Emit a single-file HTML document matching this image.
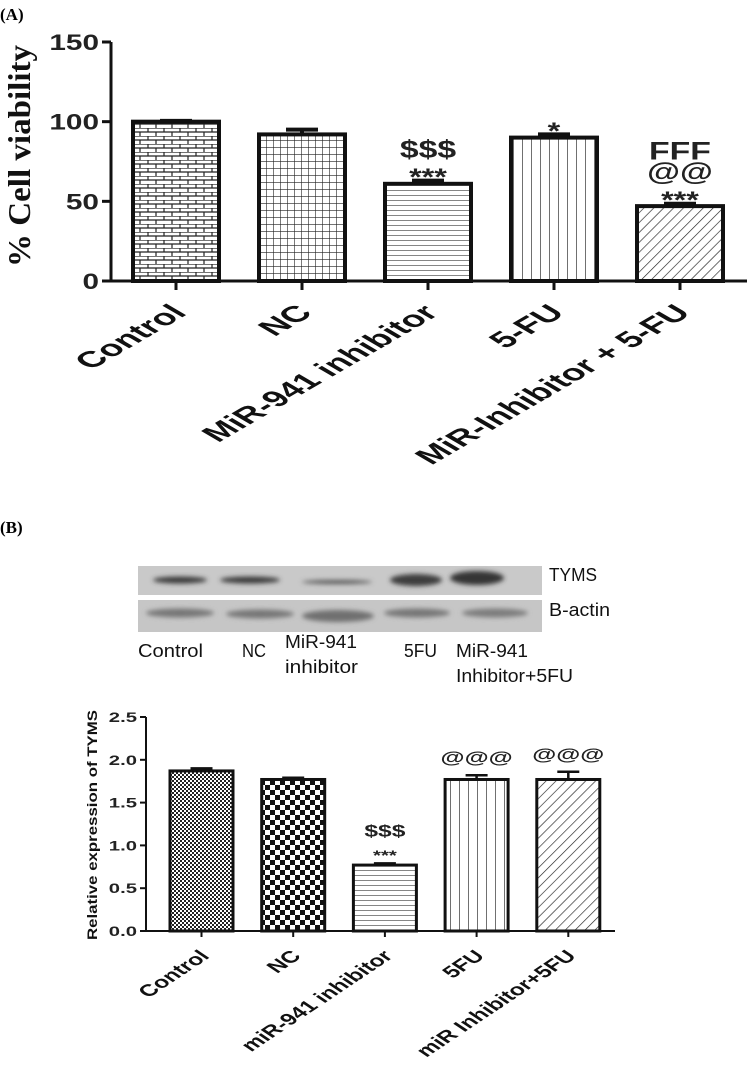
<!DOCTYPE html>
<html><head><meta charset="utf-8">
<style>
html,body{margin:0;padding:0;background:#fff;}
svg{display:block;}
text{font-family:"Liberation Sans",Arial,sans-serif;}
</style></head>
<body>
<svg id="fig" width="749" height="1069" viewBox="0 0 749 1069" xmlns="http://www.w3.org/2000/svg">
<defs>
  <pattern id="pBrick" width="16" height="8" patternUnits="userSpaceOnUse">
    <rect width="16" height="8" fill="#fff"/>
    <path d="M0 0H16M0 4H16M4 0V4M12 4V8" stroke="#222" stroke-width="1.2"/>
  </pattern>
  <pattern id="pGrid" width="7" height="7" patternUnits="userSpaceOnUse">
    <rect width="7" height="7" fill="#fff"/>
    <path d="M0 0H7M0 0V7" stroke="#222" stroke-width="1.2"/>
  </pattern>
  <pattern id="pHoriz" width="6" height="5" patternUnits="userSpaceOnUse">
    <rect width="6" height="5" fill="#fff"/>
    <path d="M0 0H6" stroke="#222" stroke-width="1.1"/>
  </pattern>
  <pattern id="pVert" width="9" height="6" patternUnits="userSpaceOnUse">
    <rect width="9" height="6" fill="#fff"/>
    <path d="M0 0V6" stroke="#222" stroke-width="1.3"/>
  </pattern>
  <pattern id="pDiag" width="7" height="7" patternUnits="userSpaceOnUse" patternTransform="rotate(45)">
    <rect width="7" height="7" fill="#fff"/>
    <path d="M0 0V7" stroke="#222" stroke-width="1.3"/>
  </pattern>
  <pattern id="pFineCheck" width="4" height="4" patternUnits="userSpaceOnUse">
    <rect width="4" height="4" fill="#fff"/>
    <rect width="2" height="2" fill="#222"/><rect x="2" y="2" width="2" height="2" fill="#222"/>
  </pattern>
  <pattern id="pCoarseCheck" width="10" height="10" patternUnits="userSpaceOnUse">
    <rect width="10" height="10" fill="#fff"/>
    <rect width="5" height="5" fill="#111"/><rect x="5" y="5" width="5" height="5" fill="#111"/>
  </pattern>
  <filter id="blur" x="-20%" y="-100%" width="140%" height="300%"><feGaussianBlur stdDeviation="2.5"/></filter>
</defs>

<text x="0" y="20" font-weight="bold" font-size="17" style="font-family:'Liberation Serif',serif">(A)</text>
<g id="chartA"></g>

<text x="0" y="533" font-weight="bold" font-size="17" style="font-family:'Liberation Serif',serif">(B)</text>

<g>
  <rect x="138" y="566" width="404" height="29" fill="#c9c9c9"/>
  <rect x="138" y="600" width="404" height="32" fill="#c6c6c6"/>
  <g filter="url(#blur)">
    <ellipse cx="180" cy="580" rx="27" ry="3.5" fill="#3a3a3a"/>
    <ellipse cx="250" cy="580" rx="30" ry="3.5" fill="#3a3a3a"/>
    <ellipse cx="337" cy="582" rx="35" ry="2" fill="#555"/>
    <ellipse cx="416" cy="580" rx="26" ry="6" fill="#3c3c3c"/>
    <ellipse cx="477" cy="578" rx="27" ry="7" fill="#353535"/>
    <ellipse cx="180" cy="613" rx="34" ry="4.5" fill="#777"/>
    <ellipse cx="260" cy="614" rx="34" ry="4.5" fill="#777"/>
    <ellipse cx="338" cy="616" rx="36" ry="6" fill="#707070"/>
    <ellipse cx="417" cy="613" rx="33" ry="4.5" fill="#777"/>
    <ellipse cx="495" cy="613" rx="33" ry="4.5" fill="#7d7d7d"/>
  </g>
  <text x="549" y="581" font-size="18" textLength="48" lengthAdjust="spacingAndGlyphs" fill="#111">TYMS</text>
  <text x="549" y="616" font-size="18" textLength="61" lengthAdjust="spacingAndGlyphs" fill="#111">B-actin</text>
  <g font-size="18" fill="#111">
    <text x="138" y="657" textLength="65" lengthAdjust="spacingAndGlyphs">Control</text>
    <text x="242" y="657" textLength="24" lengthAdjust="spacingAndGlyphs">NC</text>
    <text x="285" y="648" textLength="72" lengthAdjust="spacingAndGlyphs">MiR-941</text>
    <text x="285" y="673" textLength="73" lengthAdjust="spacingAndGlyphs">inhibitor</text>
    <text x="404" y="657" textLength="33" lengthAdjust="spacingAndGlyphs">5FU</text>
    <text x="456" y="657" textLength="72" lengthAdjust="spacingAndGlyphs">MiR-941</text>
    <text x="456" y="682" textLength="117" lengthAdjust="spacingAndGlyphs">Inhibitor+5FU</text>
  </g>
</g>
<g id="chartB"></g>
</svg>
<script>
// ---- Chart A data ----
const catsA = ["Control","NC","MiR-941 inhibitor","5-FU","MiR-Inhibitor + 5-FU"];
const valsA = [100, 92, 61, 90, 47];
const errA = [0.5, 3, 2, 2, 1.5];
const annotA = [[], [], ["$$$","***"], ["*"], ["FFF","@@","***"]];
const ticksA = [0, 50, 100, 150];
// ---- Chart B data ----
const catsB = ["Control","NC","miR-941 inhibitor","5FU","miR Inhibitor+5FU"];
const valsB = [1.87, 1.77, 0.77, 1.77, 1.77];
const errB = [0.03, 0.02, 0.02, 0.05, 0.09];
const annotB = [[], [], ["$$$","***"], ["@@@"], ["@@@"]];
const ticksB = ["0.0","0.5","1.0","1.5","2.0","2.5"];

const NS = "http://www.w3.org/2000/svg";
function mk(parent, tag, attrs, txt){
  const e = document.createElementNS(NS, tag);
  for (const k in attrs) e.setAttribute(k, attrs[k]);
  if (txt !== undefined) e.textContent = txt;
  parent.appendChild(e);
  return e;
}
function stretch(t, sx){
  const L = t.getComputedTextLength();
  if (L > 0) { t.setAttribute("textLength", (L * sx).toFixed(1)); t.setAttribute("lengthAdjust", "spacingAndGlyphs"); }
}

function drawChart(cfg){
  const g = document.getElementById(cfg.id);
  const y = v => cfg.y0 - (v - cfg.min) / (cfg.max - cfg.min) * (cfg.y0 - cfg.yTop);
  const xc = i => cfg.xFirst + i * cfg.step;
  const ya = mk(g, "line", {x1:cfg.axX, x2:cfg.axX, y1:cfg.yTop, y2:cfg.y0, stroke:"#111", "stroke-width":cfg.axW});
  
  
  const xa = mk(g, "line", {x1:cfg.axX, x2:cfg.axEnd, y1:cfg.y0, y2:cfg.y0, stroke:"#111", "stroke-width":cfg.axW});
  
  
  cfg.ticks.forEach(t => {
    const v = parseFloat(t);
    mk(g, "line", {x1:cfg.axX - cfg.tickL, x2:cfg.axX, y1:y(v), y2:y(v), stroke:"#111", "stroke-width":cfg.axW});
    const tl = mk(g, "text", {x:cfg.axX - cfg.tickL - 3, y:y(v) + cfg.tickFs*0.36, "text-anchor":"end", "font-size":cfg.tickFs, "font-weight":"bold", fill:"#222"}, String(t));
    
    
    stretch(tl, cfg.sx);
  });
  cfg.cats.forEach((c, i) => {
    const cx = xc(i), v = cfg.vals[i], e = cfg.errs[i];
    const bar = mk(g, "rect", {x:cx - cfg.bw/2, y:y(v), width:cfg.bw, height:cfg.y0 - y(v), fill:"url(#" + cfg.pats[i] + ")", stroke:"#111", "stroke-width":cfg.barW});
    
    
    const eb = mk(g, "path", {d:"M" + cx + " " + y(v) + "V" + y(v + e) + "M" + (cx - cfg.capW) + " " + y(v + e) + "H" + (cx + cfg.capW), stroke:"#111", "stroke-width":cfg.errW, fill:"none"});
    
    
    mk(g, "line", {x1:cx, x2:cx, y1:cfg.y0, y2:cfg.y0 + cfg.tickL, stroke:"#111", "stroke-width":cfg.axW});
    const an = cfg.annot[i];
    const cap = y(v + e);
    let yy = cap - cfg.firstGap;
    for (let k = an.length - 1; k >= 0; k--) {
      const s = an[k];
      const isStar = s.indexOf("*") >= 0;
      let by;
      if (isStar) {
        const sc = cap - cfg.starGap;
        by = sc + 0.6 * cfg.starFs;
        yy = sc - cfg.afterStar;
      } else {
        by = yy;
        yy -= cfg.annStep;
      }
      const t = mk(g, "text", {x:cx, y:by, "text-anchor":"middle", "font-size":isStar ? cfg.starFs : cfg.annFs, "font-weight":"bold", fill:"#222"}, s);
      
      
      stretch(t, cfg.sx);
    }
    const lx = cx + cfg.lblDx, ly = cfg.y0 + cfg.lblDy;
    const lbl = mk(g, "text", {x:0, y:0, "text-anchor":"end", "font-size":cfg.lblFs, "font-weight":"bold", fill:"#111", transform:"translate(" + lx + " " + ly + ") scale(" + cfg.lblSx + " 1) rotate(-45)"}, c);
    
    
  });
  const yt = mk(g, "text", {x:cfg.ytX, y:cfg.ytY, "text-anchor":"middle", "font-size":cfg.ytFs, "font-weight":"bold", fill:"#111", transform:"rotate(-90 " + cfg.ytX + " " + cfg.ytY + ")", style:cfg.ytStyle}, cfg.ytTxt);
  
  
  yt.setAttribute("textLength", cfg.ytLen);
  yt.setAttribute("lengthAdjust", "spacingAndGlyphs");
}

drawChart({id:"chartA", cats:catsA, vals:valsA, errs:errA, annot:annotA, ticks:ticksA,
  min:0, max:150, y0:281, yTop:42, axX:111, axEnd:747, axW:3, tickL:9, tickFs:22, sx:1.35,
  xFirst:176, step:126, bw:86, barW:4, capW:16, errW:4,
  pats:["pBrick","pGrid","pHoriz","pVert","pDiag"],
  starGap:10, afterStar:13, firstGap:6, annFs:25, starFs:24, annStep:21,
  lblDx:12, lblDy:33, lblFs:22.5, lblSx:1.72,
  ytX:30, ytY:156, ytFs:32, ytLen:222, ytTxt:"% Cell viability", ytStyle:"font-family:'Liberation Serif',serif"});

drawChart({id:"chartB", cats:catsB, vals:valsB, errs:errB, annot:annotB, ticks:ticksB,
  min:0, max:2.5, y0:931, yTop:717, axX:146, axEnd:615, axW:2, tickL:6, tickFs:14, sx:1.45,
  xFirst:201.5, step:91.7, bw:63, barW:3, capW:11, errW:2.5,
  pats:["pFineCheck","pCoarseCheck","pHoriz","pVert","pDiag"],
  starGap:12, afterStar:15, firstGap:12, annFs:17, starFs:14, annStep:20,
  lblDx:9, lblDy:26, lblFs:16.5, lblSx:1.5,
  ytX:97, ytY:825, ytFs:14, ytLen:230, ytTxt:"Relative expression of TYMS", ytStyle:""});
</script>
</body></html>
